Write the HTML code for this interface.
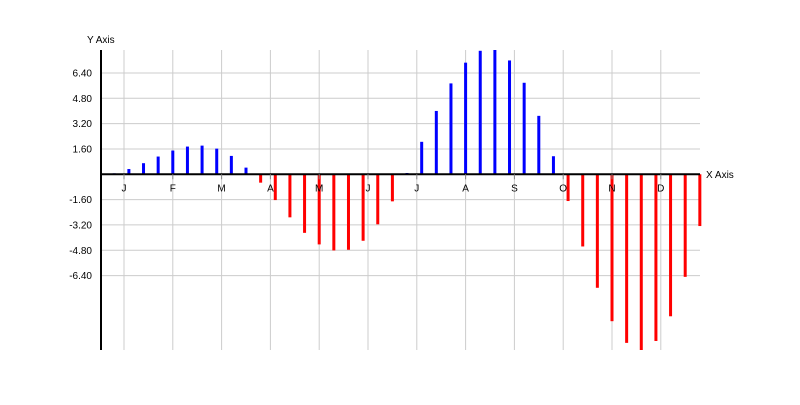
<!DOCTYPE html>
<html><head><meta charset="utf-8"><style>
body{margin:0;background:#fff}
svg text{font-family:"Liberation Sans",sans-serif;font-size:10px;fill:#000}
</style></head><body>
<svg id="chart" width="800" height="400" xmlns="http://www.w3.org/2000/svg"></svg>
<script>
const values=[0.06,0.33,0.7,1.12,1.5,1.75,1.81,1.62,1.16,0.42,-0.53,-1.63,-2.72,-3.7,-4.43,-4.81,-4.77,-4.2,-3.16,-1.71,0.08,2.05,4.0,5.74,7.05,7.8,7.9,7.19,5.78,3.69,1.14,-1.69,-4.56,-7.17,-9.28,-10.65,-11.2,-10.53,-8.97,-6.48,-3.27];
const monthLabels=["J","F","M","A","M","J","J","A","S","O","N","D"];
const yTicks=[6.4,4.8,3.2,1.6,-1.6,-3.2,-4.8,-6.4];
const yTickLabels=["6.40","4.80","3.20","1.60","-1.60","-3.20","-4.80","-6.40"];

const svg=document.getElementById('chart');
const NS='http://www.w3.org/2000/svg';
const pL=101,pR=700,pT=50,pB=350;
const yMax=7.85,yMin=-11.1;
const y=v=>pT+(yMax-v)/(yMax-yMin)*(pB-pT);
const xMonth=m=>124+m*48.8;
const xBar=i=>xMonth(-0.2+0.3*i);
function mk(tag,attrs){const e=document.createElementNS(NS,tag);for(const k in attrs)e.setAttribute(k,attrs[k]);svg.appendChild(e);return e;}

monthLabels.forEach((l,i)=>{
  const g=mk('line',{x1:xMonth(i),x2:xMonth(i),y1:pT,y2:pB,stroke:'#ccc','stroke-width':1});
  
  
});
yTicks.forEach((t,i)=>{
  const g=mk('line',{x1:pL,x2:pR,y1:y(t),y2:y(t),stroke:'#ccc','stroke-width':1});
  
  
  const tx=mk('text',{x:92,y:y(t)+3.5,'text-anchor':'end'});
  tx.textContent=yTickLabels[i];
  
  
});
values.forEach((v,i)=>{
  const vv=Math.max(yMin,Math.min(yMax,v));
  const y0=y(0),y1=y(vv);
  const r=mk('rect',{x:xBar(i)-1.5,y:Math.min(y0,y1),width:3,height:Math.abs(y1-y0),fill:v>=0?'#0000ff':'#ff0000'});
  
  
});
const xa=mk('line',{x1:pL,x2:pR,y1:y(0),y2:y(0),stroke:'#000','stroke-width':2});


monthLabels.forEach((l,i)=>{
  const tk=mk('line',{x1:xMonth(i),x2:xMonth(i),y1:y(0),y2:y(0)+5,stroke:'#888','stroke-width':1});
  
  
  const tx=mk('text',{x:xMonth(i),y:y(0)+17,'text-anchor':'middle'});
  tx.textContent=l;
  
  
});
const ya=mk('line',{x1:pL,x2:pL,y1:pT,y2:pB,stroke:'#000','stroke-width':2});


const yt=mk('text',{x:87,y:43});
yt.textContent='Y Axis';


const xt=mk('text',{x:706,y:y(0)+3.5});
xt.textContent='X Axis';


</script>
</body></html>
